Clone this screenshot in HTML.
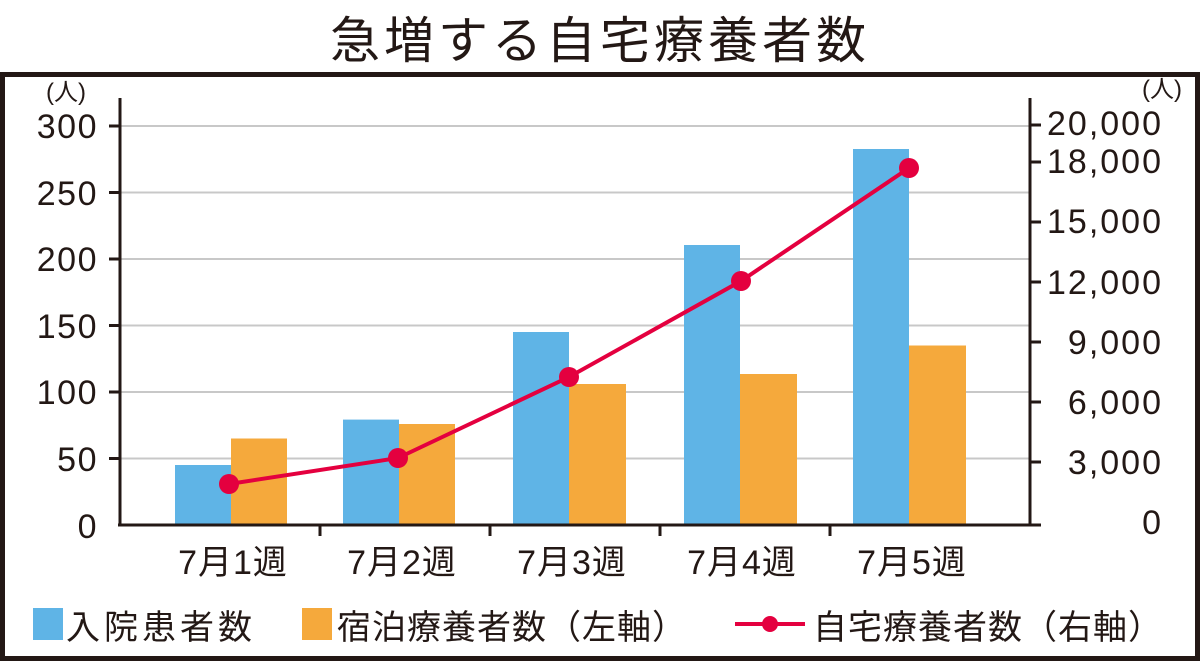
<!DOCTYPE html>
<html><head><meta charset="utf-8"><style>
html,body{margin:0;padding:0;background:#fff;}
svg{display:block;}
text{font-family:"Liberation Sans","Noto Sans CJK JP",sans-serif;fill:#231815;}
</style></head><body>
<svg width="1200" height="662" viewBox="0 0 1200 662" xmlns="http://www.w3.org/2000/svg">
<text x="600" y="58" font-size="50" letter-spacing="4" text-anchor="middle">急増する自宅療養者数</text>
<rect x="2.5" y="74.5" width="1195" height="584" fill="none" stroke="#231815" stroke-width="5"/>
<g stroke="#c8c8c8" stroke-width="2">
<line x1="120" y1="126" x2="1030" y2="126"/><line x1="120" y1="192.5" x2="1030" y2="192.5"/>
<line x1="120" y1="259" x2="1030" y2="259"/><line x1="120" y1="325.5" x2="1030" y2="325.5"/>
<line x1="120" y1="392" x2="1030" y2="392"/><line x1="120" y1="458.5" x2="1030" y2="458.5"/>
</g>
<g>
<rect x="175" y="465" width="56" height="60" fill="#5fb4e6"/><rect x="231" y="438.5" width="56" height="86.5" fill="#f5a93c"/>
<rect x="343" y="419.6" width="56" height="105.4" fill="#5fb4e6"/><rect x="399" y="424" width="56" height="101" fill="#f5a93c"/>
<rect x="513" y="332" width="56" height="193" fill="#5fb4e6"/><rect x="569" y="384" width="57" height="141" fill="#f5a93c"/>
<rect x="684" y="245" width="56" height="280" fill="#5fb4e6"/><rect x="740" y="374" width="57" height="151" fill="#f5a93c"/>
<rect x="853" y="149" width="56" height="376" fill="#5fb4e6"/><rect x="909" y="345.5" width="57" height="179.5" fill="#f5a93c"/>
</g>
<g stroke="#231815" stroke-width="3">
<line x1="120" y1="98" x2="120" y2="526"/>
<line x1="1030" y1="98" x2="1030" y2="526"/>
<line x1="118" y1="525" x2="1041" y2="525"/>
<line x1="109" y1="126" x2="120" y2="126"/><line x1="109" y1="192.5" x2="120" y2="192.5"/>
<line x1="109" y1="259" x2="120" y2="259"/><line x1="109" y1="325.5" x2="120" y2="325.5"/>
<line x1="109" y1="392" x2="120" y2="392"/><line x1="109" y1="458.5" x2="120" y2="458.5"/>
<line x1="1030" y1="125" x2="1041" y2="125"/><line x1="1030" y1="162" x2="1041" y2="162"/>
<line x1="1030" y1="222" x2="1041" y2="222"/><line x1="1030" y1="282" x2="1041" y2="282"/>
<line x1="1030" y1="342" x2="1041" y2="342"/><line x1="1030" y1="402" x2="1041" y2="402"/>
<line x1="1030" y1="462" x2="1041" y2="462"/>
<line x1="320" y1="525" x2="320" y2="536"/><line x1="490" y1="525" x2="490" y2="536"/>
<line x1="660" y1="525" x2="660" y2="536"/><line x1="830" y1="525" x2="830" y2="536"/>
</g>
<polyline points="229,484 398,458 569,377 741,281 909,168" fill="none" stroke="#e4003f" stroke-width="4"/>
<g fill="#e4003f"><circle cx="229" cy="484" r="10"/><circle cx="398" cy="458" r="10"/><circle cx="569" cy="377" r="10"/><circle cx="741" cy="281" r="10"/><circle cx="909" cy="168" r="10"/></g>
<g font-size="34" letter-spacing="1.5" text-anchor="end">
<text x="98" y="138">300</text><text x="98" y="205">250</text><text x="98" y="271">200</text>
<text x="98" y="338">150</text><text x="98" y="404">100</text><text x="98" y="471">50</text><text x="98" y="538">0</text>
</g>
<text x="66" y="100" font-size="24" text-anchor="middle">(人)</text>
<text x="1162" y="97" font-size="24" text-anchor="middle">(人)</text>
<g font-size="34" letter-spacing="2" text-anchor="end">
<text x="1163" y="135">20,000</text><text x="1163" y="173">18,000</text><text x="1163" y="233">15,000</text>
<text x="1163" y="294">12,000</text><text x="1163" y="354">9,000</text><text x="1163" y="414">6,000</text>
<text x="1163" y="474">3,000</text><text x="1163" y="534">0</text>
</g>
<g font-size="34" letter-spacing="1" text-anchor="middle">
<text x="233" y="574">7月1週</text><text x="402" y="574">7月2週</text><text x="572" y="574">7月3週</text>
<text x="742" y="574">7月4週</text><text x="912" y="574">7月5週</text>
</g>
<rect x="33" y="608" width="30" height="32" fill="#5fb4e6"/>
<text x="66" y="639" font-size="34" letter-spacing="4">入院患者数</text>
<rect x="302" y="608" width="30" height="32" fill="#f5a93c"/>
<text x="337" y="639" font-size="34" letter-spacing="1">宿泊療養者数（左軸）</text>
<line x1="735" y1="624" x2="805" y2="624" stroke="#e4003f" stroke-width="4"/>
<circle cx="770" cy="624" r="8" fill="#e4003f"/>
<text x="813" y="639" font-size="34" letter-spacing="1">自宅療養者数（右軸）</text>
</svg>
</body></html>
